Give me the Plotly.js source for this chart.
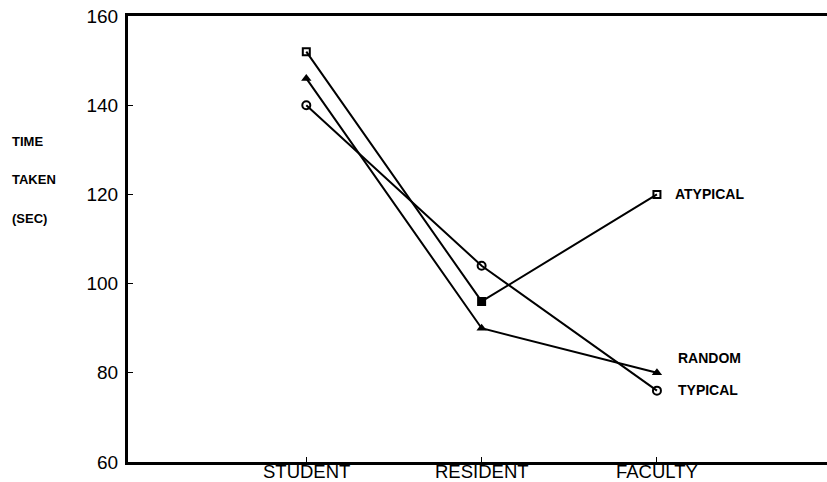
<!DOCTYPE html>
<html>
<head>
<meta charset="utf-8">
<script src="https://cdn.plot.ly/plotly-3.0.1.min.js"></script>
<style>html,body{margin:0;padding:0;background:#fff;}#chart{width:827px;height:482px;}</style>
</head>
<body>
<div id="chart"></div>
<script>
var categories = ['STUDENT', 'RESIDENT', 'FACULTY'];
var atypical = [152, 96, 120];
var random = [146, 90, 80];
var typical = [140, 104, 76];
var yTicks = [60, 80, 100, 120, 140, 160];
var yTitleLines = ['TIME', 'TAKEN', '(SEC)'];
var seriesNames = ['ATYPICAL', 'RANDOM', 'TYPICAL'];
var labelValues = [120, 83.4, 76.2];

var lineStyle = {color: '#000', width: 2};
var traces = [
  {x: categories, y: atypical, name: seriesNames[0], mode: 'lines+markers', line: lineStyle,
   marker: {symbol: ['square-open', 'square', 'square-open'], size: 7, color: '#000', line: {color: '#000', width: 2}}},
  {x: categories, y: random, name: seriesNames[1], mode: 'lines+markers', line: lineStyle,
   marker: {symbol: 'triangle-up', size: 9, color: '#000'}},
  {x: categories, y: typical, name: seriesNames[2], mode: 'lines+markers', line: lineStyle,
   marker: {symbol: 'circle-open', size: 8, color: '#000', line: {color: '#000', width: 2}}}
];

var PW = 699, PH = 446, L = 128, T = 16;
var annotations = [];
var ty = [141, 179, 218];
yTitleLines.forEach(function (t, i) {
  annotations.push({text: t, xref: 'paper', yref: 'paper', x: (10 - L) / PW, y: 1 - (ty[i] - T) / PH,
    xanchor: 'left', yanchor: 'middle', showarrow: false,
    font: {family: 'Arial, Liberation Sans', size: 13, color: '#000', weight: 'bold'}});
});
var lx = [673, 676, 676];
seriesNames.forEach(function (t, i) {
  annotations.push({text: t, xref: 'paper', yref: 'y', x: (lx[i] - L) / PW, y: labelValues[i],
    xanchor: 'left', yanchor: 'middle', showarrow: false,
    font: {family: 'Arial, Liberation Sans', size: 14, color: '#000', weight: 'bold'}});
});
categories.forEach(function (c) {
  annotations.push({text: c, xref: 'x', yref: 'paper', x: c, y: (462 - 471) / PH,
    xanchor: 'center', yanchor: 'middle', showarrow: false,
    font: {family: 'Arial, Liberation Sans', size: 18.5, color: '#000'}});
});

var layout = {
  width: 827, height: 482,
  margin: {l: L, r: 0, t: T, b: 20, pad: 0},
  paper_bgcolor: '#fff', plot_bgcolor: '#fff',
  showlegend: false,
  font: {family: 'Arial, Liberation Sans', color: '#000'},
  xaxis: {type: 'category', range: [-1.017, 2.97], showgrid: false, zeroline: false,
    showline: true, mirror: true, linecolor: '#000', linewidth: 3,
    ticks: 'inside', ticklen: 5, tickwidth: 1, tickcolor: '#000', showticklabels: false},
  yaxis: {range: [60, 160], tickvals: yTicks, showgrid: false, zeroline: false,
    showline: true, linecolor: '#000', linewidth: 3,
    ticks: 'inside', ticklen: 5, tickwidth: 1, tickcolor: '#000',
    ticklabelstandoff: 3,
    tickfont: {size: 19, family: 'Arial, Liberation Sans', color: '#000'}},
  annotations: annotations
};

Plotly.newPlot('chart', traces, layout, {displayModeBar: false, staticPlot: true});
</script>
</body>
</html>
